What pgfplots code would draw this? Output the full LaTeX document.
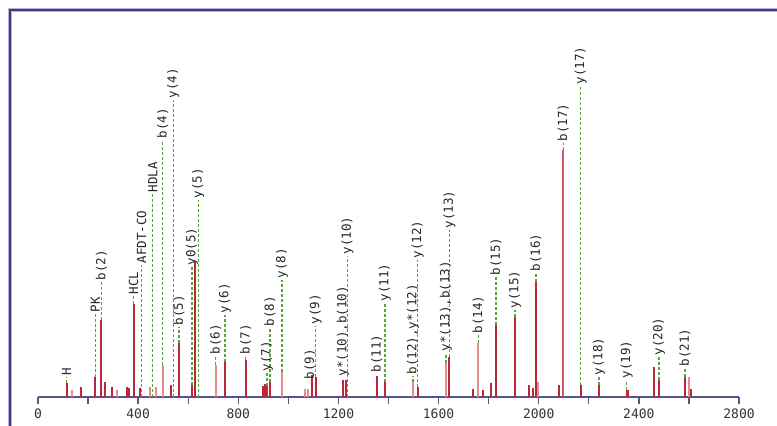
\documentclass[border=0pt]{standalone}
\usepackage{fontspec}
\setmainfont{DejaVu Sans Mono}
\usepackage{pgfplots}
\pgfplotsset{compat=1.18}
\definecolor{axcol}{HTML}{55558F}
\definecolor{darkred}{HTML}{B8283A}
\definecolor{lightred}{HTML}{E58A8E}
\definecolor{dashgreen}{HTML}{58A63A}
\definecolor{frameblue}{HTML}{3C3C7A}
\definecolor{framehalo}{HTML}{B4B4E4}
\begin{document}
\begin{tikzpicture}
\begin{axis}[
  name=ax, at={(0,0)}, anchor=south west,
  width=701bp, height=387bp, scale only axis,
  xmin=0, xmax=2800, ymin=0, ymax=387,
  axis x line*=bottom, axis y line=none,
  axis line style={-, color=axcol, line width=1.3bp},
  xtick={0,400,...,2800},
  minor xtick={200,600,...,2600},
  tick align=outside,
  major tick length=7bp, minor tick length=7bp,
  tick style={color=axcol, line width=1.3bp},
  xticklabel style={font=\fontsize{13bp}{15bp}\selectfont, text=black!80, yshift=-1bp},
  /pgf/number format/assume math mode=true,
  /pgf/number format/1000 sep={},
  clip=false,
  unbounded coords=jump,
]
% green dashed label lines (from peak top to label)
\addplot[color=dashgreen, line width=1.4bp, dash pattern=on 3bp off 2bp, mark=none]
  table[x=x, y=y] {
x y
114.6 14
114.6 20
nan nan
229 20
229 83
nan nan
253 77
253 115
nan nan
382 93
382 101
nan nan
414.2 0
414.2 132
nan nan
458.2 0
458.2 203
nan nan
498.1 32
498.1 257
nan nan
540.4 0
540.4 297
nan nan
563.2 54
563.2 70
nan nan
615.1 12
615.1 130
nan nan
640.3 0
640.3 197
nan nan
709.8 32
709.8 41
nan nan
747 35
747 82
nan nan
829.6 37
829.6 41
nan nan
914.7 11
914.7 24
nan nan
926.7 15
926.7 69
nan nan
974.6 25
974.6 117
nan nan
1109.3 20
1109.3 71
nan nan
1236 0
1236 141
nan nan
1386 15
1386 94
nan nan
1497.9 15
1497.9 21
nan nan
1516.6 10
1516.6 137
nan nan
1629.7 34
1629.7 44
nan nan
1642.9 40
1642.9 167
nan nan
1758.7 54
1758.7 62
nan nan
1829.4 72
1829.4 120
nan nan
1905.3 80
1905.3 87
nan nan
1989.2 115
1989.2 124
nan nan
2098.2 247
2098.2 254
nan nan
2168 12
2168 311
nan nan
2240.8 12
2240.8 20
nan nan
2351.4 7
2351.4 17
nan nan
2480.5 17
2480.5 40
nan nan
2584.3 20
2584.3 29
};
% light peaks
\addplot[ycomb, color=lightred, line width=1.8bp, mark=none]
  table[x=x, y=y] {
x y
134.6 7
315.5 7
447.4 10
471.3 10
498.1 32
709.8 32
974.6 25
1066.5 8
1078.5 8
1497.9 15
1629.7 34
1758.7 54
1996 15
2600.3 20
};
% b(17) peak
\addplot[ycomb, color=lightred!50!darkred, line width=1.8bp, mark=none]
  table[x=x, y=y] {
x y
2098.2 247
};
% dark peaks
\addplot[ycomb, color=darkred, line width=2bp, mark=none]
  table[x=x, y=y] {
x y
114.6 14
170.6 10
229 20
253 77
267.6 15
295.6 10
355.5 10
363.5 9
382 93
407.4 9
531.2 12
563.2 54
615.1 12
627.1 135
747 35
829.6 37
898.7 11
906.7 13
914.7 11
926.7 15
1093.3 22
1109.3 20
1218.3 17
1230.2 17
1353 21
1386 15
1516.6 10
1642.9 40
1738.8 8
1778.7 7
1808.2 14
1829.4 72
1905.3 80
1961.2 12
1976 9
1989.2 115
2081 12
2168 12
2240.8 12
2351.4 7
2356.6 7
2460.5 30
2480.5 17
2584.3 20
2608.3 8
};
% labels
\addplot[only marks, mark=*, mark size=0pt, mark options={draw=none, fill=none},
  point meta=explicit symbolic,
  nodes near coords,
  nodes near coords style={rotate=90, anchor=west, inner sep=1.5bp,
    font=\fontsize{12.5bp}{14bp}\selectfont, text=black!85}]
  table[x=x, y=y, meta=label] {
x y label
114.6 20 H
229 83 PK
253 115 b(2)
382 101 HCL
414.2 132 AFDT-CO
458.2 203 HDLA
498.1 257 b(4)
540.4 297 y(4)
563.2 70 b(5)
615.1 130 y0(5)
640.3 197 y(5)
709.8 41 b(6)
747 82 y(6)
829.6 41 b(7)
914.7 24 y(7)
926.7 69 b(8)
974.6 117 y(8)
1086.5 16 b(9)
1109.3 71 y(9)
1218.3 19 y*(10),b(10)
1236 141 y(10)
1353 23 b(11)
1386 94 y(11)
1497.9 21 b(12),y*(12)
1516.6 137 y(12)
1629.7 44 y*(13),b(13)
1642.9 167 y(13)
1758.7 62 b(14)
1829.4 120 b(15)
1905.3 87 y(15)
1989.2 124 b(16)
2098.2 254 b(17)
2168 311 y(17)
2240.8 20 y(18)
2351.4 17 y(19)
2480.5 40 y(20)
2584.3 29 b(21)
};
\end{axis}
\useasboundingbox (-38bp,-29bp) rectangle (739bp,397bp);
\draw[color=framehalo, line width=4.5bp] (-28bp,-40bp) -- (-28bp,387bp) -- (760bp,387bp);
\draw[color=frameblue, line width=2.2bp] (-28bp,-40bp) -- (-28bp,387bp) -- (760bp,387bp);
\end{tikzpicture}
\end{document}
